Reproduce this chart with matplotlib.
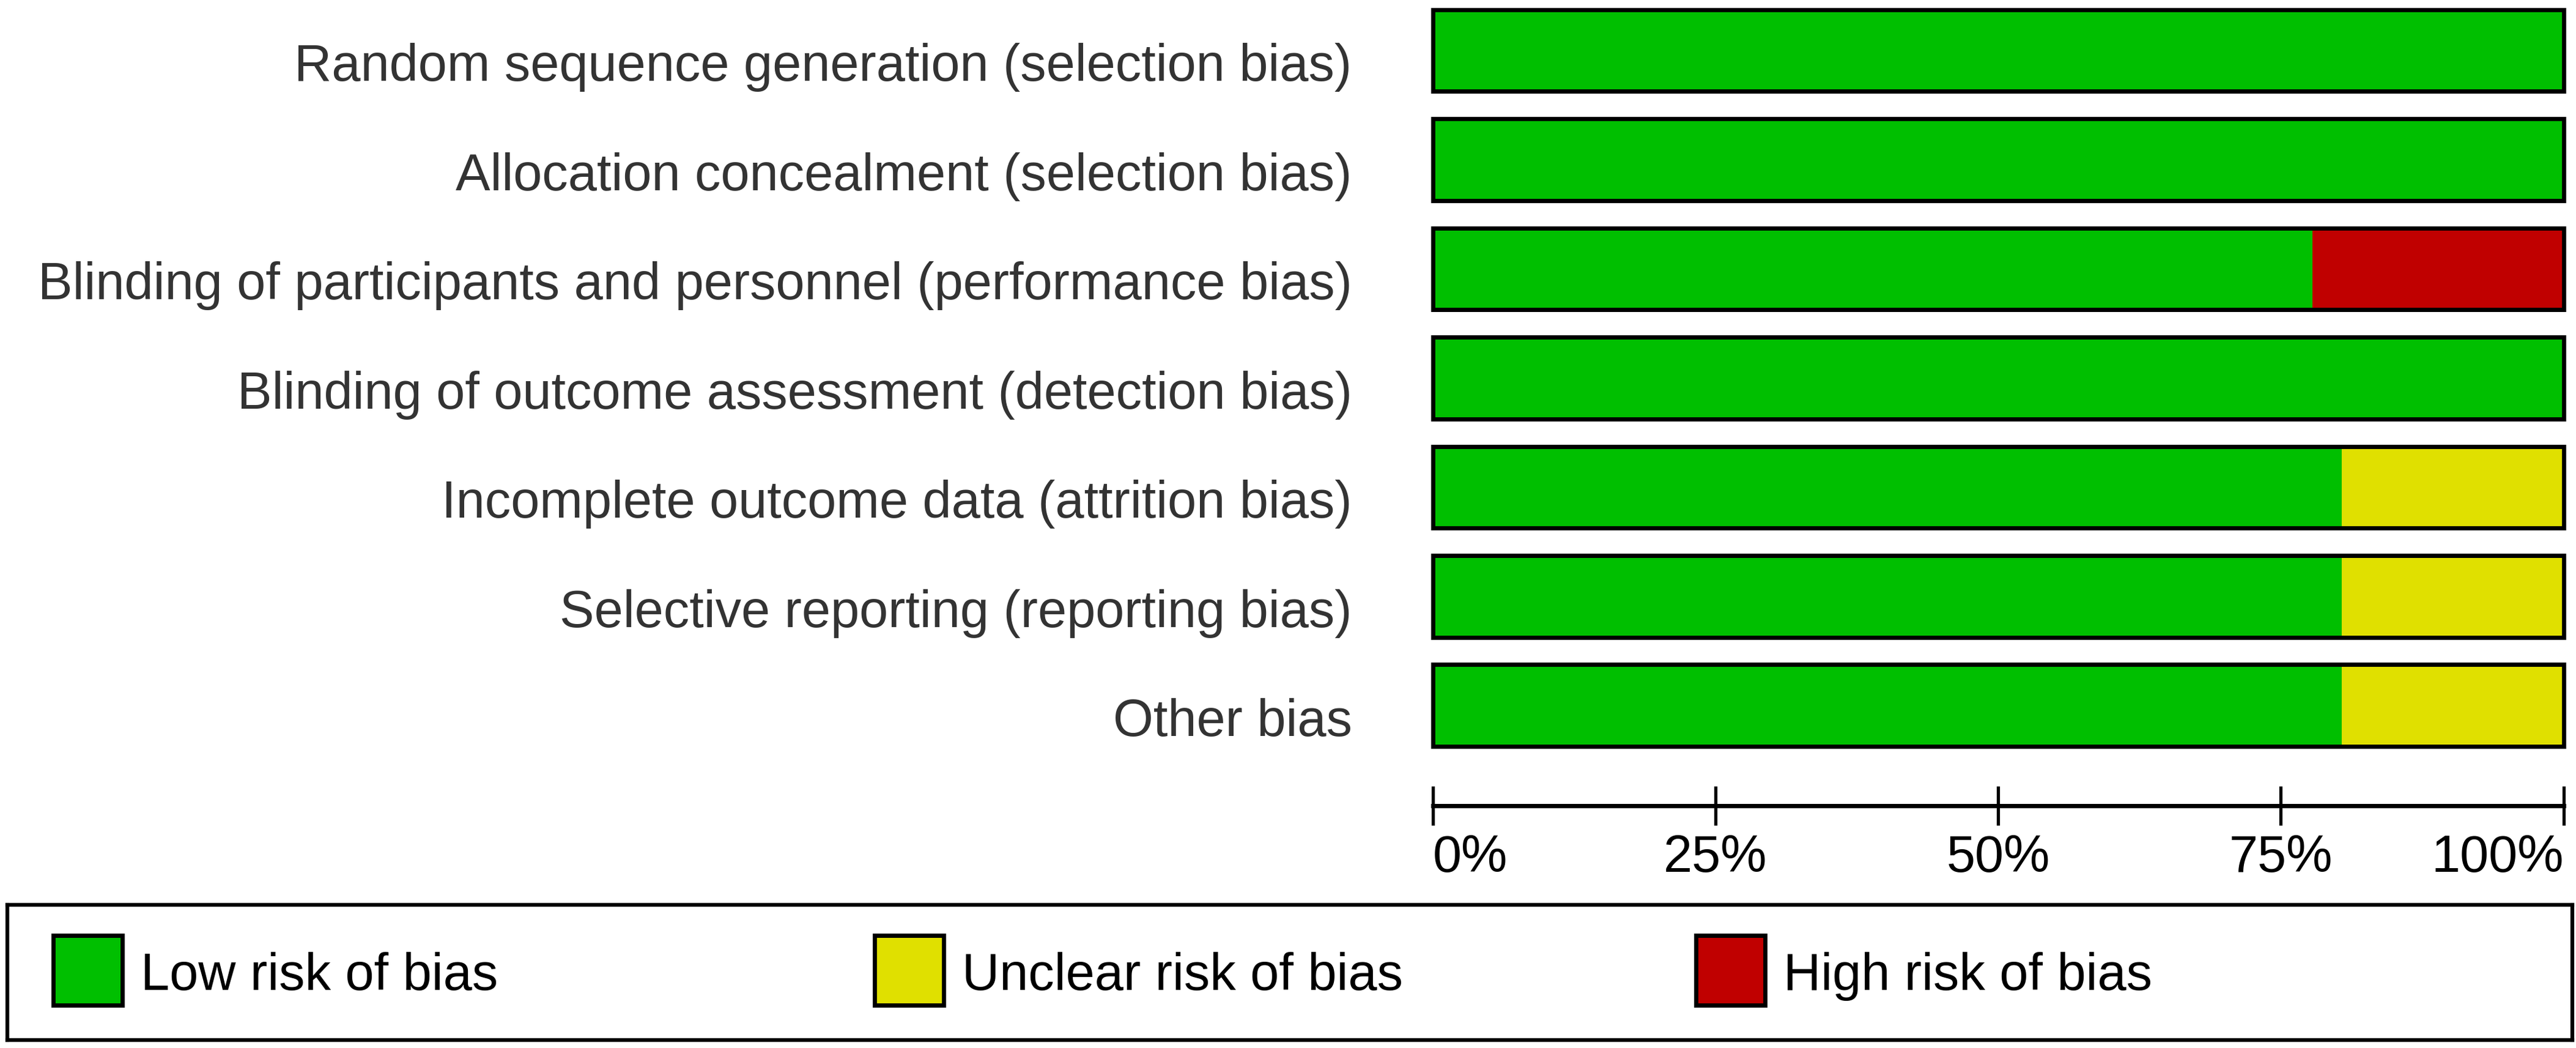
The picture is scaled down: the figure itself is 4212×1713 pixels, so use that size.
import matplotlib
matplotlib.use("Agg")
import numpy as np
import matplotlib.pyplot as plt
from matplotlib.patches import Rectangle

# Risk of bias domains (top to bottom) and share of studies in each judgement (%)
domains = [
    "Random sequence generation (selection bias)",
    "Allocation concealment (selection bias)",
    "Blinding of participants and personnel (performance bias)",
    "Blinding of outcome assessment (detection bias)",
    "Incomplete outcome data (attrition bias)",
    "Selective reporting (reporting bias)",
    "Other bias",
]
low_risk = [100.0, 100.0, 77.8, 100.0, 80.4, 80.4, 80.4]
unclear_risk = [0.0, 0.0, 0.0, 0.0, 19.6, 19.6, 19.6]
high_risk = [0.0, 0.0, 22.2, 0.0, 0.0, 0.0, 0.0]

tick_values = [0, 25, 50, 75, 100]
tick_labels = ["0%", "25%", "50%", "75%", "100%"]

legend_labels = ["Low risk of bias", "Unclear risk of bias", "High risk of bias"]
colors = ["#00bf00", "#e0e000", "#c00000"]

plt.rcParams['font.family'] = ['Liberation Sans', 'DejaVu Sans']

W, H = 4212, 1713
fig = plt.figure(figsize=(W / 100, H / 100), dpi=100)

# Main bar panel (pixel layout converted to figure fractions)
ax = fig.add_axes([2342.5 / W, (H - 1240) / H, 1849 / W, 1240 / H])
y = np.arange(len(domains))
low = np.array(low_risk)
unc = np.array(unclear_risk)
high = np.array(high_risk)
bar_h = 0.75

ax.barh(y, low, height=bar_h, color=colors[0], linewidth=0)
ax.barh(y, unc, left=low, height=bar_h, color=colors[1], linewidth=0)
ax.barh(y, high, left=low + unc, height=bar_h, color=colors[2], linewidth=0)
# outer border only, no divider between segments
ax.barh(y, low + unc + high, height=bar_h, fill=False, edgecolor="black",
        linewidth=5, clip_on=False)

ax.set_xlim(0, 100)
ax.set_ylim(6.485, -0.462)

for s in ["top", "right", "left"]:
    ax.spines[s].set_visible(False)
ax.spines["bottom"].set_position(("outward", 55.4))
ax.spines["bottom"].set_linewidth(5)
ax.set_yticks([])
ax.set_xticks(tick_values)
ax.set_xticklabels(tick_labels, fontsize=61)
ax.tick_params(axis="x", direction="inout", length=46, width=3.8, pad=10)
xt = ax.get_xticklabels()
xt[0].set_horizontalalignment("left")
xt[-1].set_horizontalalignment("right")

for yi, name in zip(y, domains):
    ax.annotate(name, xy=(0, yi), xycoords=("axes fraction", "data"),
                xytext=(-95, -36), textcoords="offset points",
                ha="right", va="baseline", fontsize=61, color="#333333")

# Legend box
lax = fig.add_axes([12 / W, (H - 1700) / H, 4194 / W, 221 / H])
lax.set_xlim(0, 4194)
lax.set_ylim(0, 221)
lax.set_xticks([])
lax.set_yticks([])
for s in lax.spines.values():
    s.set_linewidth(4.5)
for i, (lab, col) in enumerate(zip(legend_labels, colors)):
    x0 = 75 + i * 1343
    lax.add_patch(Rectangle((x0, 57), 113, 114, facecolor=col,
                            edgecolor="black", linewidth=5))
    lax.text(x0 + 143, 82, lab, fontsize=61, ha="left", va="baseline",
             color="black")

fig.savefig("out.png", dpi=100)
